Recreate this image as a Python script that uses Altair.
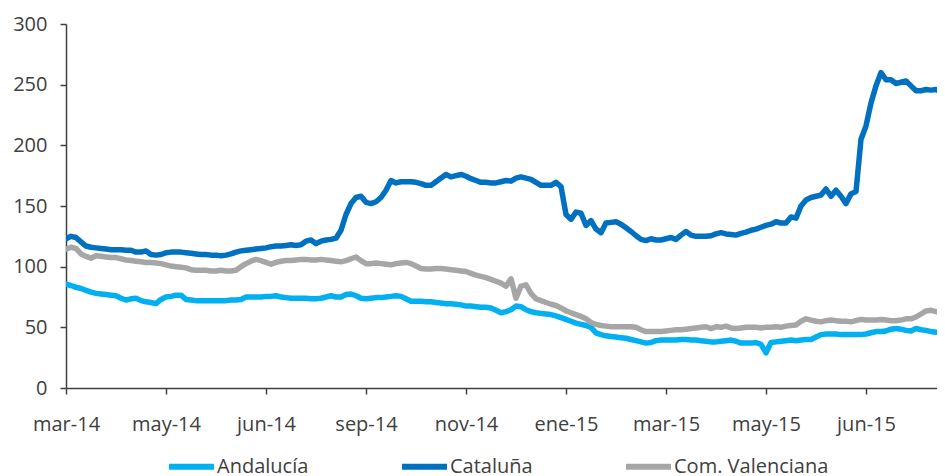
import altair as alt
import pandas as pd

# x-axis category labels (one every 20 index steps)
month_labels = ["mar-14", "may-14", "jun-14", "sep-14", "nov-14",
                "ene-15", "mar-15", "may-15", "jun-15"]
series_names = ["Andalucía", "Cataluña", "Com. Valenciana"]
series_colors = ["#00B0F0", "#0070C0", "#A6A6A6"]

andalucia = [
    85.5, 84.5, 83, 82, 80.5, 79, 78, 77.5, 77, 76.5,
    76, 74, 72.5, 73.5, 74, 72, 71, 70.5, 69.5, 73,
    75, 75.5, 76.5, 76.5, 73, 72.5, 72, 72, 72, 72,
    72, 72, 72, 72.5, 72.5, 73, 75, 75, 75, 75,
    75.5, 75.5, 76, 75, 74.5, 74, 74, 74, 74, 73.5,
    73.5, 74, 75, 76, 75, 75, 77, 77.5, 76, 74,
    73.5, 74, 74.5, 74.5, 75, 75.5, 76, 75.5, 73.5, 71.5,
    71.5, 71.5, 71, 71, 70.5, 70, 69.5, 69.5, 69, 68.5,
    67.5, 67.5, 67, 66.5, 66.5, 66, 64, 62, 63, 64.5,
    67.5, 67, 64.5, 63, 62, 61.5, 61, 60.5, 59.5, 58,
    56.5, 55, 53.5, 52.5, 51.5, 50, 45.5, 44, 43, 42.5,
    42, 41.5, 41, 40, 39, 38, 37, 37.5, 39, 39.5,
    39.5, 39.5, 39.5, 40, 40, 39.5, 39.5, 39, 38.5, 38,
    38, 38.5, 39, 39.5, 38.5, 37, 37, 37, 37.5, 36,
    29, 37.5, 38, 38.5, 39, 39.5, 39, 39.5, 40, 40,
    42, 44, 44.5, 44.5, 44.5, 44, 44, 44, 44, 44,
    44.5, 45.5, 46.5, 46.5, 47, 48.5, 49, 48.5, 47.5, 47,
    49, 48, 47.5, 46.5, 46, 46, 45.5,
]

cataluna = [
    123, 125, 124, 120.5, 117, 116, 115.5, 115, 114.5, 114,
    114, 114, 113.5, 113.5, 112, 112, 113, 110, 109.5, 110,
    111.5, 112, 112, 112, 111.5, 111, 110.5, 110, 110, 109.5,
    109.5, 109, 109.5, 110.5, 112, 113, 113.5, 114, 114.5, 115,
    115.5, 116.5, 117, 117, 117.5, 118, 117.5, 118, 121, 122,
    119, 121, 122, 122.5, 123.5, 130, 143, 152, 157, 158,
    153, 152, 153.5, 157, 163, 171, 169, 170, 170, 170,
    169.5, 168.5, 167, 167, 170, 173, 176, 174, 175, 176,
    174.5, 172.5, 171, 169.5, 169.5, 169, 169, 170, 171, 170.5,
    173, 174, 173, 172, 169.5, 167, 167, 167, 169.5, 166,
    143, 139, 145, 144, 134, 138, 131, 128, 136, 136.5,
    137, 135, 132, 129, 125.5, 122.5, 121.5, 123, 122, 122,
    123, 124, 122.5, 126, 129, 126, 125, 125, 125, 125.5,
    127, 128, 127, 126.5, 126, 127.5, 128.5, 130, 131, 132.5,
    134, 135, 137, 136, 136, 141, 140, 150, 155, 157,
    158, 159, 164, 158, 163, 158, 152, 160, 162, 205,
    216, 235, 249, 260, 254, 254, 251, 252, 253, 249,
    245, 245, 246, 245.5, 246, 244, 243,
]

valenciana = [
    114.5, 116, 115, 110.5, 108.5, 107, 109, 108.5, 108, 107.5,
    107.5, 106.5, 105.5, 105, 104.5, 104, 103.5, 103.5, 103, 102.5,
    101.5, 100.5, 100, 99.5, 99, 97.5, 97, 97, 97, 96.5,
    96.5, 97, 96.5, 96.5, 97, 100, 102.5, 104.5, 106, 105,
    103.5, 102, 103.5, 104.5, 105, 105, 105.5, 106, 106, 105.5,
    105.5, 106, 105.5, 105, 104.5, 104, 105, 106.5, 108, 105,
    102.5, 102.5, 103, 102.5, 102, 101.5, 102.5, 103, 103.5, 102.5,
    100.5, 98.5, 98, 98, 98.5, 98.5, 98, 97.5, 97, 96.5,
    96, 94.5, 93, 92, 91, 89.5, 88, 86.5, 84, 90,
    74, 84, 85, 78, 73.5, 72, 70.5, 69, 68, 66,
    63.5, 62, 60.5, 59, 57, 54, 52.5, 51.5, 51, 50.5,
    50.5, 50.5, 50.5, 50.5, 50, 48, 46.5, 46.5, 46.5, 46.5,
    47, 47.5, 48, 48, 48.5, 49, 49.5, 50, 50.5, 49,
    50.5, 50, 51, 49.5, 49, 49.5, 50, 50, 50, 49.5,
    50, 50, 50.5, 50, 51, 51.5, 52, 55, 57, 56,
    55, 54.5, 55.5, 56, 55.5, 55, 55, 54.5, 55.5, 56.5,
    56, 56, 56, 56.5, 56, 55.5, 55.5, 56, 57, 57,
    58.5, 61, 63.5, 64, 63, 61.5, 60.5,
]

rows = []
for name, vals in zip(series_names, [andalucia, cataluna, valenciana]):
    for i, v in enumerate(vals):
        rows.append({"i": i, "v": v, "s": name})
df = pd.DataFrame(rows)

FONT = "Open Sans"
TXT = "#404040"

label_js = "[" + ",".join("'%s'" % m for m in month_labels) + "]"

chart = alt.Chart(df).mark_line(
    strokeWidth=5.5, strokeCap="round", strokeJoin="round", clip=True
).encode(
    x=alt.X("i:Q",
            scale=alt.Scale(domain=[0, 174.2], nice=False, zero=False),
            axis=alt.Axis(values=list(range(0, 161, 20)),
                          labelExpr=label_js + "[round(datum.value/20)]",
                          title=None, grid=False, tickSize=6,
                          labelPadding=20, labelFontSize=20, labelFont=FONT,
                          labelColor=TXT, domainColor=TXT, tickColor=TXT,
                          domainWidth=1.5, tickWidth=1.5, labelFlush=False,
                          labelOverlap=False)),
    y=alt.Y("v:Q",
            scale=alt.Scale(domain=[0, 300], nice=False),
            axis=alt.Axis(values=[0, 50, 100, 150, 200, 250, 300],
                          title=None, grid=False, tickSize=6,
                          labelPadding=13, labelFontSize=20, labelFont=FONT,
                          labelColor=TXT, domainColor=TXT, tickColor=TXT,
                          domainWidth=1.5, tickWidth=1.5)),
    color=alt.Color("s:N",
                    scale=alt.Scale(domain=series_names, range=series_colors),
                    legend=alt.Legend(orient="none", legendX=100, legendY=417,
                                      direction="horizontal", columns=3,
                                      title=None, symbolType="stroke",
                                      symbolSize=2025, symbolStrokeWidth=6,
                                      labelFontSize=20, labelFont=FONT,
                                      labelColor=TXT, columnPadding=81,
                                      labelOffset=0, labelLimit=400)),
).properties(
    width=871, height=364, autosize="none",
    padding={"left": 58, "top": 16, "right": 0, "bottom": 88},
).configure_view(stroke=None)

chart.save("out.html", embed_options={"renderer": "svg", "actions": False})
